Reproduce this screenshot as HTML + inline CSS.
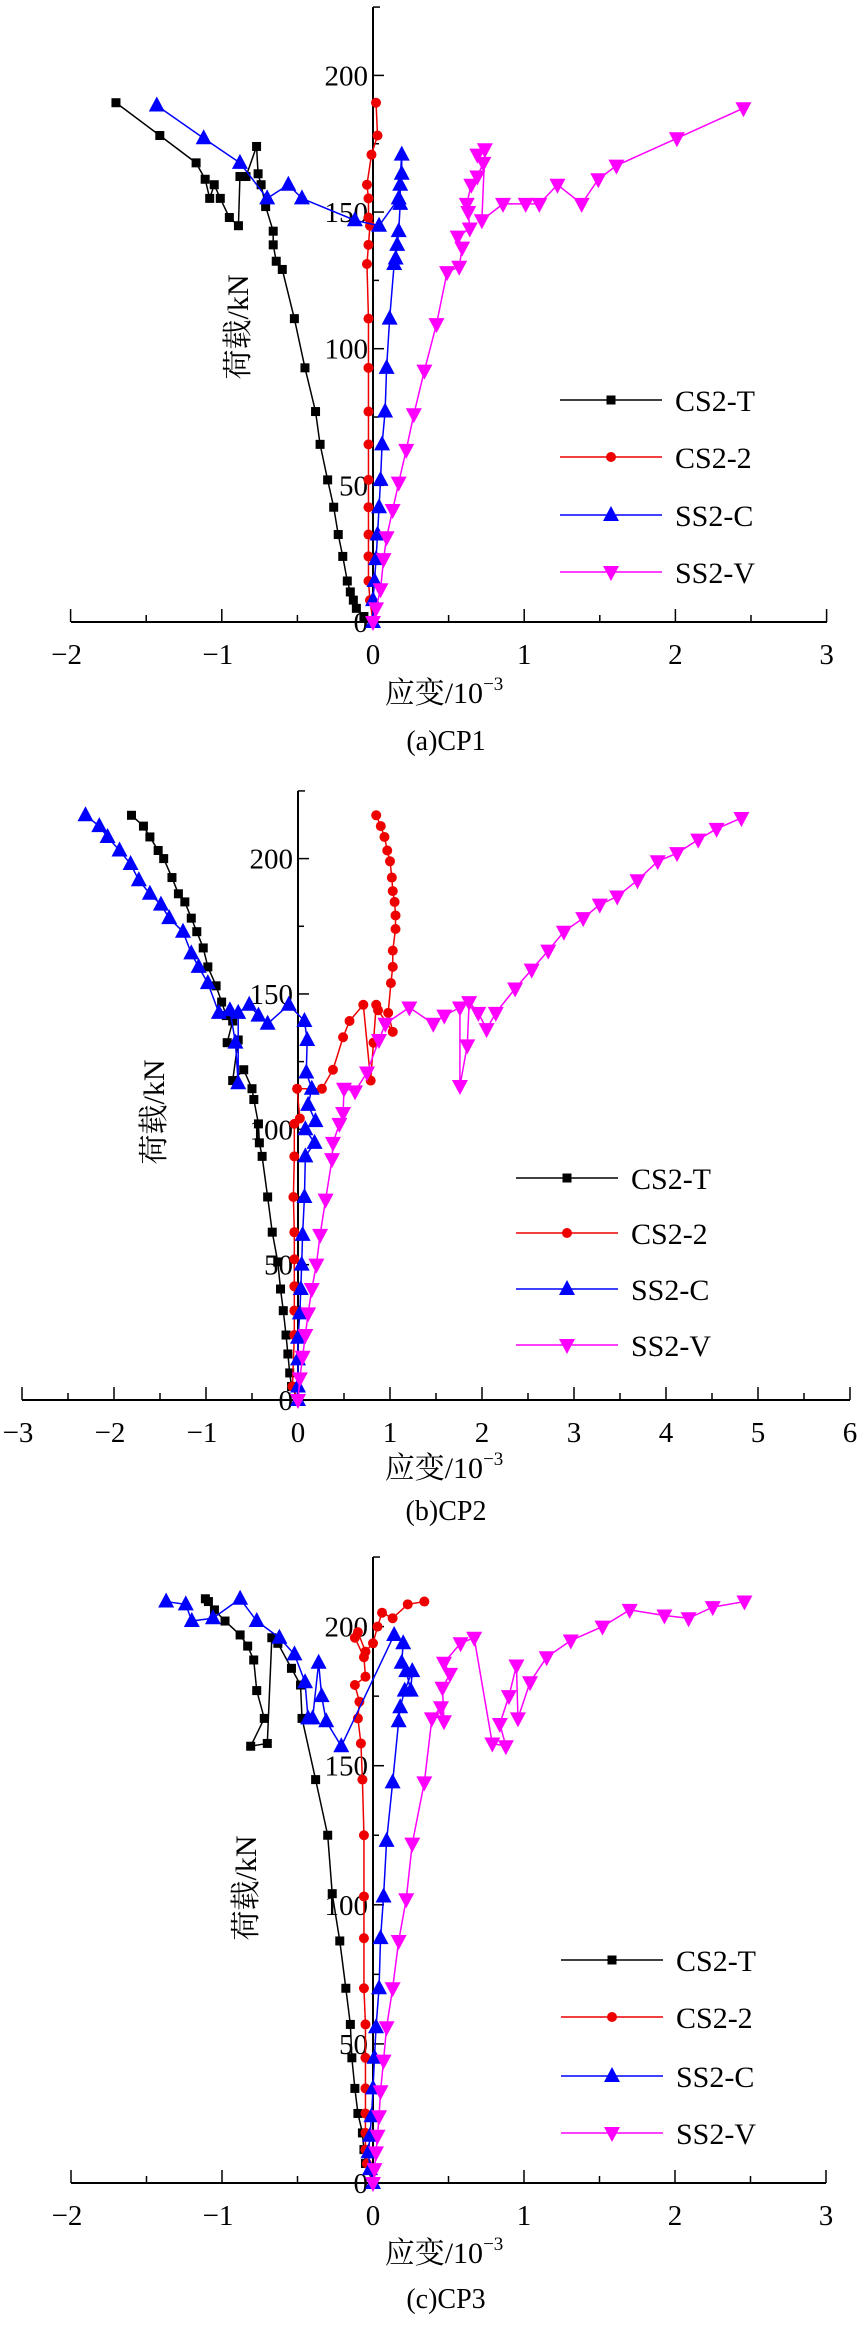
<!DOCTYPE html>
<html><head><meta charset="utf-8"><style>
html,body{margin:0;padding:0;background:#fff}
svg text{font-family:"Liberation Serif","Noto Serif CJK SC",serif;fill:#000}
</style></head><body>
<svg id="fig" xmlns="http://www.w3.org/2000/svg" width="862" height="2322" viewBox="0 0 862 2322" font-family="'Liberation Serif','Noto Serif CJK SC',serif"></svg>
<script>
// ---- Panel (a) CP1 ----
const a_cs2t_strain=[0,-0.06,-0.11,-0.13,-0.15,-0.17,-0.20,-0.23,-0.26,-0.30,-0.35,-0.38,-0.45,-0.52,-0.60,-0.64,-0.66,-0.66,-0.71,-0.74,-0.76,-0.77,-0.84,-0.88,-0.89,-0.95,-1.01,-1.05,-1.08,-1.11,-1.17,-1.41,-1.70];
const a_cs2t_load=[0,2,5,8,11,15,24,32,42,52,65,77,93,111,129,132,138,143,152,160,164,174,163,163,145,148,155,160,155,162,168,178,190];
const a_cs22_strain=[0,-0.02,-0.03,-0.03,-0.03,-0.03,-0.03,-0.03,-0.03,-0.03,-0.03,-0.04,-0.03,-0.02,-0.03,-0.03,-0.04,-0.01,0.03,0.02];
const a_cs22_load=[0,8,15,24,32,42,52,65,77,93,111,131,138,145,148,155,160,171,178,190];
const a_ss2c_strain=[0,0,0.01,0.02,0.03,0.04,0.05,0.06,0.08,0.09,0.11,0.14,0.15,0.16,0.17,0.18,0.18,0.19,0.19,0.17,0.04,-0.12,-0.47,-0.56,-0.70,-0.88,-1.12,-1.43];
const a_ss2c_load=[0,8,15,23,32,42,52,65,77,93,111,131,133,138,143,153,160,164,171,155,145,147,155,160,155,168,177,189];
const a_ss2v_strain=[0,0.02,0.05,0.07,0.09,0.13,0.17,0.22,0.27,0.34,0.42,0.49,0.57,0.59,0.56,0.64,0.63,0.62,0.65,0.69,0.73,0.69,0.74,0.72,0.86,1.01,1.10,1.22,1.38,1.49,1.61,2.01,2.45];
const a_ss2v_load=[0,5,12,23,31,41,51,63,76,92,109,128,130,137,141,144,150,153,160,163,168,171,173,147,153,153,153,160,153,162,167,177,188];
const a_xticks=[-2,-1,0,1,2,3];
// ---- Panel (b) CP2 ----
const b_cs2t_strain=[0,-0.07,-0.09,-0.11,-0.13,-0.16,-0.19,-0.22,-0.28,-0.33,-0.39,-0.42,-0.43,-0.48,-0.50,-0.59,-0.71,-0.65,-0.77,-0.71,-0.78,-0.83,-0.89,-0.98,-1.03,-1.10,-1.16,-1.23,-1.30,-1.37,-1.46,-1.52,-1.61,-1.68,-1.81];
const b_cs2t_load=[0,5,10,17,24,33,41,51,62,75,90,95,102,111,115,122,118,133,132,140,142,147,153,160,167,173,178,184,187,193,200,203,208,212,216];
const b_cs22_strain=[0,-0.06,-0.04,-0.04,-0.04,-0.04,-0.04,-0.05,-0.04,-0.04,0.02,-0.01,0.26,0.38,0.49,0.56,0.71,0.79,0.82,0.85,0.87,1.03,0.98,1.01,1.03,1.03,1.06,1.06,1.05,1.03,1.02,1.00,0.97,0.94,0.90,0.85];
const b_cs22_load=[0,5,24,33,42,52,62,75,90,102,104,115,115,122,134,140,146,118,132,146,144,136,143,154,160,166,174,179,184,188,193,199,203,208,212,216];
const b_ss2c_strain=[0,0,0,0,0.02,0.03,0.04,0.05,0.07,0.08,0.18,0.08,0.19,0.11,0.15,0.09,0.10,0.07,-0.10,-0.33,-0.43,-0.53,-0.65,-0.65,-0.68,-0.74,-0.86,-0.98,-1.08,-1.16,-1.25,-1.40,-1.49,-1.61,-1.73,-1.82,-1.94,-2.07,-2.16,-2.31];
const b_ss2c_load=[0,5,15,23,32,41,50,61,75,90,95,100,103,109,115,121,133,140,146,139,142,146,143,117,132,144,143,154,160,165,173,178,183,187,192,198,203,208,212,216];
const b_ss2v_strain=[0,0.02,0.05,0.08,0.11,0.15,0.20,0.24,0.30,0.37,0.38,0.45,0.49,0.50,0.62,0.75,0.88,0.95,1.21,1.47,1.59,1.76,1.76,1.84,1.86,1.96,2.05,2.15,2.36,2.54,2.72,2.89,3.10,3.28,3.47,3.69,3.91,4.12,4.35,4.55,4.82];
const b_ss2v_load=[0,8,16,24,32,41,50,61,74,89,95,102,106,115,114,121,133,139,145,139,142,145,116,131,147,143,137,143,152,159,166,173,178,183,186,192,199,202,207,211,215];
const b_xticks=[-3,-2,-1,0,1,2,3,4,5,6];
// ---- Panel (c) CP3 ----
const c_cs2t_strain=[0,-0.05,-0.06,-0.07,-0.10,-0.12,-0.14,-0.15,-0.18,-0.22,-0.27,-0.30,-0.38,-0.47,-0.48,-0.54,-0.63,-0.67,-0.70,-0.81,-0.72,-0.77,-0.79,-0.83,-0.88,-0.98,-1.05,-1.09,-1.11];
const c_cs2t_load=[0,7,12,18,25,34,45,57,70,87,104,125,145,167,179,185,194,196,158,157,167,177,188,193,197,202,206,209,210];
const c_cs22_strain=[0,-0.04,-0.05,-0.05,-0.05,-0.05,-0.05,-0.05,-0.06,-0.06,-0.06,-0.06,-0.07,-0.08,-0.10,-0.09,-0.12,-0.05,-0.06,-0.12,-0.10,-0.05,0,0.03,0.06,0.13,0.23,0.34];
const c_cs22_load=[0,7,12,18,25,34,45,57,70,88,103,125,145,158,167,173,179,182,189,196,198,191,194,200,205,203,208,209];
const c_ss2c_strain=[0,-0.02,-0.03,-0.02,-0.01,0,0.01,0.02,0.04,0.05,0.07,0.09,0.13,0.17,0.18,0.21,0.26,0.25,0.22,0.19,0.20,0.14,-0.21,-0.31,-0.34,-0.36,-0.40,-0.43,-0.45,-0.52,-0.62,-0.77,-0.88,-1.06,-1.20,-1.24,-1.37];
const c_ss2c_load=[0,5,11,17,24,34,45,56,70,88,103,123,144,166,171,177,184,177,184,187,194,197,157,166,175,187,167,167,180,190,196,202,210,203,202,208,209];
const c_ss2v_strain=[0,0.01,0.02,0.03,0.04,0.05,0.07,0.09,0.13,0.17,0.22,0.26,0.34,0.39,0.45,0.47,0.46,0.51,0.47,0.58,0.67,0.79,0.88,0.84,0.90,0.95,0.96,1.04,1.15,1.31,1.52,1.70,1.93,2.09,2.25,2.46];
const c_ss2v_load=[0,5,11,17,24,33,44,56,70,87,102,122,144,167,171,166,178,183,187,194,196,158,157,165,175,186,167,180,189,195,200,206,204,203,207,209];
const c_xticks=[-2,-1,0,1,2,3];
const yticks=[0,50,100,150,200];
const seriesNames=["CS2-T","CS2-2","SS2-C","SS2-V"];

const NS="http://www.w3.org/2000/svg";
const FONT="'Liberation Serif','Noto Serif CJK SC',serif";
const svg=document.getElementById('fig');
function mk(tag,attrs,parent){const e=document.createElementNS(NS,tag);for(const k in attrs)e.setAttribute(k,attrs[k]);if(tag==='text')e.setAttribute('font-family',FONT);(parent||svg).appendChild(e);return e;}
const colors=["#000000","#ee0000","#0000ff","#ff00ff"];
function marker(g,type,x,y,color){
  let m;
  if(type===0){m=mk('rect',{x:x-4.5,y:y-4.5,width:9,height:9,fill:color},g);}
  else if(type===1){m=mk('circle',{cx:x,cy:y,r:5,fill:color},g);}
  else if(type===2){m=mk('polygon',{points:`${x},${y-9} ${x-8},${y+6} ${x+8},${y+6}`,fill:color},g);}
  else {m=mk('polygon',{points:`${x},${y+9} ${x-8},${y-6} ${x+8},${y-6}`,fill:color},g);}
  return m;
}
function panel(p){
  const g=mk('g',{});
  
  
  const X=v=>p.x0+v*p.xu, Y=v=>p.y0-v*p.yu;
  const xa=mk('line',{x1:p.xl,y1:p.y0,x2:p.xr,y2:p.y0,stroke:'#000','stroke-width':2},g);
  
  
  const tmin=p.xticks[0],tmax=p.xticks[p.xticks.length-1];
  for(let v=tmin;v<=tmax+1e-9;v+=0.5){
    const major=Math.abs(v-Math.round(v))<1e-9;
    mk('line',{x1:X(v),y1:p.y0,x2:X(v),y2:p.y0-(major?13:7),stroke:'#000','stroke-width':1.5},g);
  }
  p.xticks.forEach(v=>{
    const t=mk('text',{x:X(v)-(v<0?4:0),y:p.y0+42,'font-size':29,'text-anchor':'middle'},g);
    t.textContent=(v<0?'\u2212':'')+Math.abs(v);
    
    
  });
  const ya=mk('line',{x1:X(0),y1:Y(225),x2:X(0),y2:p.y0,stroke:'#000','stroke-width':2},g);
  
  
  mk('line',{x1:X(0),y1:Y(225),x2:X(0)+7,y2:Y(225),stroke:'#000','stroke-width':1.5},g);
  for(let v=0;v<=200;v+=25){
    mk('line',{x1:X(0),y1:Y(v),x2:X(0)+(v%50===0?11:6),y2:Y(v),stroke:'#000','stroke-width':1.5},g);
  }
  yticks.forEach(v=>{
    const t=mk('text',{x:X(0)-5,y:Y(v)+10,'font-size':29,'text-anchor':'end'},g);
    t.textContent=String(v);
    
    
  });
  p.series.forEach((s,i)=>{
    const sg=mk('g',{},g);
    
    
    const pts=s[0].map((v,k)=>X(v)+','+Y(s[1][k])).join(' ');
    mk('polyline',{points:pts,fill:'none',stroke:colors[i],'stroke-width':1.5,'stroke-linejoin':'round'},sg);
    s[0].forEach((v,k)=>{
      const m=marker(sg,i,X(v),Y(s[1][k]),colors[i]);
      
      
    });
  });
  const yt=mk('text',{x:0,y:0,'font-size':30,'text-anchor':'middle',transform:`translate(${p.ytx},${p.yty}) rotate(-90)`},g);
  yt.textContent='荷载/kN';
  
  
  const xt=mk('text',{x:444,y:p.xtb,'font-size':30,'text-anchor':'middle'},g);
  
  
  xt.appendChild(document.createTextNode('应变/10'));
  const sup=mk('tspan',{'font-size':19,dy:-13},xt);sup.textContent='\u22123';
  const cap=mk('text',{x:446,y:p.capb,'font-size':28,'text-anchor':'middle'},g);
  cap.textContent=p.caption;
  
  
  p.legRows.forEach((ly,i)=>{
    const lg=mk('g',{},g);
    
    
    mk('line',{x1:p.legX,y1:ly,x2:p.legX+102,y2:ly,stroke:colors[i],'stroke-width':1.5},lg);
    marker(lg,i,p.legX+51,ly,colors[i]);
    const t=mk('text',{x:p.legX+115,y:ly+11,'font-size':30},lg);
    t.textContent=seriesNames[i];
  });
}
panel({name:'panel-a-cp1',x0:373,xu:151.2,xl:71,xr:827,y0:622,yu:2.733,xticks:a_xticks,
  series:[[a_cs2t_strain,a_cs2t_load],[a_cs22_strain,a_cs22_load],[a_ss2c_strain,a_ss2c_load],[a_ss2v_strain,a_ss2v_load]],
  ytx:248,yty:327,xtb:703,capb:750,caption:'(a)CP1',legX:560,legRows:[400,457,515,572]});
panel({name:'panel-b-cp2',x0:298,xu:92,xl:22,xr:850,y0:1400,yu:2.707,xticks:b_xticks,
  series:[[b_cs2t_strain,b_cs2t_load],[b_cs22_strain,b_cs22_load],[b_ss2c_strain,b_ss2c_load],[b_ss2v_strain,b_ss2v_load]],
  ytx:164,yty:1112,xtb:1478,capb:1520,caption:'(b)CP2',legX:516,legRows:[1178,1233,1289,1345]});
panel({name:'panel-c-cp3',x0:373,xu:151,xl:71,xr:826,y0:2183,yu:2.782,xticks:c_xticks,
  series:[[c_cs2t_strain,c_cs2t_load],[c_cs22_strain,c_cs22_load],[c_ss2c_strain,c_ss2c_load],[c_ss2v_strain,c_ss2v_load]],
  ytx:256,yty:1888,xtb:2263,capb:2308,caption:'(c)CP3',legX:561,legRows:[1960,2017,2076,2133]});
</script>
</body></html>
